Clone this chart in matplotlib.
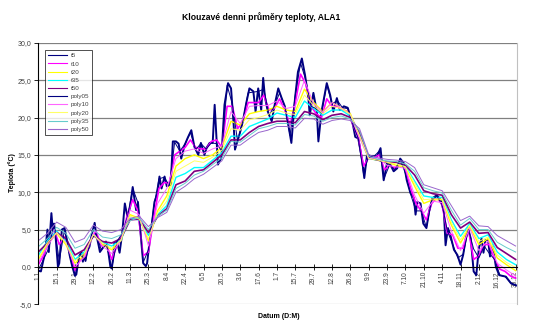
import matplotlib
matplotlib.use("Agg")
import matplotlib.pyplot as plt
import numpy as np

plt.rcParams['font.family'] = ['Liberation Sans', 'DejaVu Sans']

# den v roce (0 = 1.1.) a hodnoty 5denniho klouzaveho prumeru
days_t5 = [0, 2, 4, 5.6, 7, 8, 10, 11, 12, 13, 15, 16, 18, 20, 22, 24, 26, 28, 29, 31,
           33, 34, 35, 36, 37, 39, 41, 43, 44, 46, 47, 49, 51.6, 53, 55, 56, 57, 58, 60, 62,
           64, 66, 68, 70, 72, 74.6, 76, 78, 80, 82, 83, 85, 87, 88.6, 91, 92.4, 94, 96.3, 98, 101,
           102.6, 105, 107, 109, 111.6, 114, 116.7, 119, 122, 124, 126.7, 128.5, 130.7, 133, 134.5, 137, 139.6, 142, 144.7, 147,
           149, 150, 153.7, 156, 158.8, 161, 164, 165.7, 167.7, 170, 171.5, 172.8, 175, 178, 180.5, 183, 185.6, 188, 190.7, 193,
           195.8, 198, 201, 203.4, 206, 207, 209.8, 212.4, 213.6, 216, 220, 222.6, 225, 227.7, 230, 233, 236, 238, 240, 241.7,
           244, 247, 248.6, 250.7, 254.5, 258.3, 261, 263.4, 266, 268.5, 271, 273.7, 276, 278.7, 281, 283.8, 286.4, 287.7, 289, 291.5,
           293.6, 296, 298, 300.5, 304, 306.8, 309.3, 310.6, 312.4, 314.5, 317, 319.6, 322, 324, 326, 327.7, 329.8, 332, 334, 336,
           338, 339.5, 341, 343, 344.5, 346.4, 349, 351.5, 356.6, 360.5, 365]
t5 = [-0.5, -0.6, 1.0, 2.7, 5.0, 2.0, 7.2, 5.0, 5.8, 4.5, 0.0, 0.5, 5.0, 5.2, 3.5, 1.5, 0.0, -1.2, -1.0, 1.4,
      2.0, 0.7, 1.8, 0.8, 2.0, 2.7, 4.5, 5.9, 4.5, 2.9, 2.0, 2.5, 3.4, 2.5, 0.0, -0.2, 1.0, 3.2, 3.4, 1.9,
      4.5, 8.5, 6.7, 8.0, 10.7, 7.6, 8.7, 4.5, 0.5, 0.1, 0.5, 3.6, 6.3, 8.7, 9.9, 12.1, 10.5, 12.1, 10.8, 11.0,
      16.8, 16.8, 16.5, 14.5, 16.3, 17.3, 18.3, 16.1, 15.0, 16.6, 15.0, 16.0, 16.6, 16.6, 21.7, 13.7, 14.6, 21.7, 24.6, 23.9,
      19.0, 15.7, 17.9, 19.5, 22.1, 23.9, 23.5, 20.8, 23.9, 21.0, 25.3, 22.8, 20.8, 19.5, 21.9, 23.9, 22.6, 21.5, 19.0, 16.6,
      22.6, 26.1, 27.9, 25.7, 22.6, 20.3, 23.3, 20.8, 16.8, 20.8, 24.6, 23.0, 20.8, 22.6, 21.0, 21.5, 21.3, 20.1, 19.0, 17.4,
      17.2, 14.3, 11.9, 15.0, 14.8, 14.8, 15.9, 11.6, 13.9, 13.7, 12.8, 13.2, 14.5, 13.9, 11.6, 9.9, 9.2, 7.0, 8.7, 8.5,
      5.8, 5.2, 7.4, 9.2, 9.6, 9.0, 7.4, 2.9, 5.2, 4.1, 2.3, 1.6, 0.3, 1.6, 3.8, 5.2, 3.8, -0.6, -1.1, 2.5,
      3.8, 1.9, 3.6, 3.6, 1.4, 2.9, 0.0, -1.1, -1.3, -2.2, -2.5]

# 4denni krok
days_4 = list(range(0, 365, 4))
t10 = [0.3, 1.5, 3.5, 5.0, 3.0, 4.0, 2.0, -0.5, 1.0, 1.5, 3.5, 4.8, 2.8, 3.0, 1.0, 2.8, 4.3, 7.0, 9.0, 7.5,
       1.5, 2.0, 6.5, 10.5, 11.3, 11.2, 15.0, 15.5, 16.0, 17.0, 16.0, 15.8, 15.8, 16.8, 17.0, 16.0, 21.5, 21.5, 18.5, 19.5,
       22.0, 22.0, 22.0, 23.0, 21.0, 21.2, 22.5, 21.0, 19.0, 22.0, 25.8, 24.5, 21.5, 20.5, 20.0, 22.5, 21.5, 21.5, 21.0, 20.8,
       19.0, 17.3, 13.5, 14.6, 14.6, 15.0, 13.0, 13.6, 13.2, 14.0, 13.0, 10.5, 8.5, 7.5, 6.3, 8.5, 9.3, 8.3, 4.5, 4.3,
       2.5, 2.5, 5.0, 1.0, 1.5, 3.0, 3.0, 1.0, -0.3, -0.6, -1.2, -1.5]
poly05 = [-0.4, 1.0, 2.5, 5.8, 0.8, 5.0, 1.5, -1.1, 1.7, 0.9, 3.6, 4.5, 2.3, 3.0, -0.1, 3.4, 4.5, 6.7, 10.5, 8.6,
          0.6, 2.3, 8.0, 11.8, 12.0, 10.9, 16.7, 15.5, 16.5, 18.0, 15.7, 16.5, 15.8, 16.6, 16.5, 15.5, 24.3, 21.8, 16.8, 19.5,
          23.3, 23.4, 23.5, 23.8, 20.3, 21.5, 23.3, 21.5, 17.6, 23.0, 27.3, 25.0, 21.5, 21.2, 20.6, 24.4, 21.8, 22.3, 21.3, 21.2,
          19.0, 17.2, 12.5, 14.9, 14.8, 15.5, 12.0, 13.7, 13.0, 14.4, 12.5, 9.7, 7.5, 7.5, 5.3, 8.9, 9.5, 8.3, 4.8, 3.0,
          1.2, 1.7, 5.0, 2.4, 1.2, 2.8, 1.8, 1.0, -1.1, -1.3, -2.1, -2.5]

# tydenni krok
days_7 = list(range(0, 365, 7))
t20 = [1.0, 3.0, 4.5, 3.0, 0.5, 1.5, 4.3, 3.0, 2.3, 3.5, 7.0, 6.5, 3.5, 7.5, 9.5, 13.5, 14.5, 15.0, 14.5, 15.0,
       16.0, 19.5, 19.0, 20.5, 20.8, 21.0, 21.5, 21.0, 20.8, 23.8, 22.0, 20.8, 22.0, 21.3, 20.5, 17.5, 14.5, 14.3, 14.0, 13.6,
       13.3, 10.8, 8.5, 9.0, 9.0, 5.6, 3.2, 5.4, 3.0, 3.8, 1.2, 0.3, -0.5]
t35 = [1.5, 3.5, 4.8, 3.5, 1.0, 2.0, 4.3, 3.3, 2.8, 3.6, 6.5, 6.3, 4.2, 7.0, 8.2, 12.0, 12.5, 13.3, 13.3, 14.3,
       15.3, 17.5, 17.5, 18.8, 19.3, 19.8, 20.6, 20.3, 20.0, 22.2, 21.2, 20.3, 21.0, 21.0, 20.2, 17.8, 14.5, 14.3, 14.0, 14.0,
       13.5, 11.5, 9.5, 9.3, 9.3, 6.3, 4.1, 5.8, 3.8, 4.3, 2.0, 1.0, 0.3]
t50 = [2.0, 3.2, 4.6, 3.8, 1.6, 2.3, 4.2, 3.4, 3.2, 3.8, 6.3, 6.4, 4.6, 6.8, 7.8, 11.0, 11.5, 12.8, 13.0, 14.0,
       15.0, 17.0, 17.0, 18.0, 18.8, 19.2, 19.5, 19.5, 19.3, 20.8, 20.5, 19.7, 20.3, 20.5, 20.0, 18.0, 14.6, 14.3, 14.0, 14.0,
       13.6, 12.3, 10.2, 9.8, 9.6, 7.0, 5.2, 6.0, 4.5, 4.6, 2.6, 1.8, 1.0]
poly10 = [0.6, 2.8, 4.6, 3.3, 0.0, 1.3, 4.5, 2.8, 1.8, 3.6, 7.6, 7.0, 2.8, 8.5, 10.5, 14.5, 15.5, 15.8, 15.2, 15.8,
          16.2, 20.8, 19.2, 21.5, 21.6, 21.6, 22.2, 21.2, 21.5, 25.0, 21.8, 20.7, 22.0, 21.3, 20.4, 17.3, 14.5, 14.6, 13.6, 13.4,
          13.2, 9.6, 7.2, 8.8, 8.6, 4.8, 2.2, 5.2, 2.2, 3.5, 0.5, -0.4, -1.2]
poly20 = [1.2, 3.2, 4.6, 3.2, 0.8, 1.8, 4.3, 3.2, 2.5, 3.6, 6.8, 6.4, 3.8, 7.2, 8.8, 12.8, 13.5, 14.2, 14.0, 14.7,
          15.6, 18.5, 18.3, 19.7, 20.0, 20.4, 21.0, 20.6, 20.4, 23.0, 21.6, 20.5, 21.5, 21.2, 20.4, 17.6, 14.5, 14.3, 14.0, 13.8,
          13.4, 11.2, 9.0, 9.1, 9.1, 6.0, 3.6, 5.6, 3.4, 4.0, 1.6, 0.6, -0.1]
poly35 = [2.7, 3.8, 5.3, 4.5, 2.5, 3.0, 5.0, 4.0, 3.8, 4.3, 6.2, 6.6, 5.0, 6.8, 7.6, 10.5, 11.2, 12.3, 12.8, 13.7,
          14.6, 16.8, 16.7, 17.6, 18.5, 18.8, 19.2, 19.2, 19.0, 20.4, 20.2, 19.5, 20.0, 20.2, 19.8, 18.2, 14.8, 14.4, 14.2, 14.1,
          13.8, 12.8, 10.6, 10.2, 9.9, 7.6, 5.6, 6.5, 5.0, 5.0, 3.3, 2.6, 2.0]
poly50 = [3.5, 4.5, 6.0, 5.3, 3.3, 3.8, 5.6, 4.8, 4.6, 5.0, 6.5, 6.8, 5.4, 6.6, 7.3, 10.0, 10.8, 11.8, 12.4, 13.3,
          14.2, 16.3, 16.3, 17.2, 18.0, 18.3, 18.8, 18.8, 18.6, 19.9, 19.8, 19.1, 19.6, 19.8, 19.6, 18.5, 15.0, 14.6, 14.4, 14.3,
          14.1, 13.3, 11.0, 10.6, 10.2, 8.2, 6.2, 6.8, 5.5, 5.4, 4.2, 3.5, 2.8]

tick_days = list(range(0, 365, 14))
tick_labels = ["1.1", "15.1", "29.1", "12.2", "26.2", "11.3", "25.3", "8.4", "22.4", "6.5",
               "20.5", "3.6", "17.6", "1.7", "15.7", "29.7", "12.8", "26.8", "9.9", "23.9",
               "7.10", "21.10", "4.11", "18.11", "2.12", "16.12", "30.12"]

fig = plt.figure(figsize=(5.34, 3.31), dpi=100)
ax = fig.add_axes([0.0717, 0.0807, 0.8963, 0.790])

series = [
    (days_t5, t5, "t5", "#000080", 1.4),
    (days_4, t10, "t10", "#FF00FF", 1.2),
    (days_7, t20, "t20", "#FFFF00", 1.0),
    (days_7, t35, "t35", "#00FFFF", 1.0),
    (days_7, t50, "t50", "#800080", 1.2),
    (days_4, poly05, "poly05", "#000080", 0.7),
    (days_7, poly10, "poly10", "#FF66FF", 0.7),
    (days_7, poly20, "poly20", "#FFFF66", 0.7),
    (days_7, poly35, "poly35", "#66CCCC", 0.7),
    (days_7, poly50, "poly50", "#9966CC", 0.7),
]
for d, v, name, col, lw in series:
    ax.plot(d, v, color=col, lw=lw, label=name)

# osa x prochazi nulou
ax.spines["bottom"].set_position(("data", 0))
ax.spines["bottom"].set_color("black")
ax.spines["bottom"].set_linewidth(0.8)
ax.spines["left"].set_color("black")
ax.spines["left"].set_linewidth(0.8)
ax.spines["top"].set_visible(False)
ax.spines["right"].set_color("#c0c0c0")

ax.set_xlim(0, 365)
ax.set_ylim(-5, 30)
yt = np.arange(-5, 31, 5)
ax.set_yticks(yt)
ax.set_yticklabels([f"{v:.1f}".replace(".", ",") for v in yt], fontsize=5, color="#404040")
ax.set_xticks(tick_days)
ax.set_xticklabels(tick_labels, rotation=90, fontsize=4.8, color="#404040")
ax.tick_params(axis="x", direction="inout", length=4, width=0.6, pad=1)
ax.tick_params(axis="y", direction="out", length=3, width=0.6, pad=2)

for yv in range(5, 31, 5):
    ax.axhline(yv, color="#808080", lw=0.9, zorder=0)
ax.axhline(-5, color="#c0c0c0", lw=0.9, zorder=0)

leg = ax.legend(loc="upper left", bbox_to_anchor=(0.008, 0.985), fontsize=4.5,
                frameon=True, fancybox=False, edgecolor="black", handlelength=3.0,
                labelspacing=0.45, borderpad=0.5, handletextpad=0.6)
leg.get_frame().set_linewidth(0.6)
for line in leg.get_lines():
    line.set_linewidth(0.8)
for t in leg.get_texts():
    t.set_color("#404040")

fig.text(0.49, 0.95, "Klouzavé denni průměry teploty, ALA1", ha="center", va="center",
         fontsize=6.2, fontweight="bold")
fig.text(0.523, 0.045, "Datum (D:M)", ha="center", va="center", fontsize=5, fontweight="bold")
fig.text(0.022, 0.48, "Teplota (°C)", ha="center", va="center", rotation=90,
         fontsize=5, fontweight="bold")

fig.savefig("out.png", dpi=100)
